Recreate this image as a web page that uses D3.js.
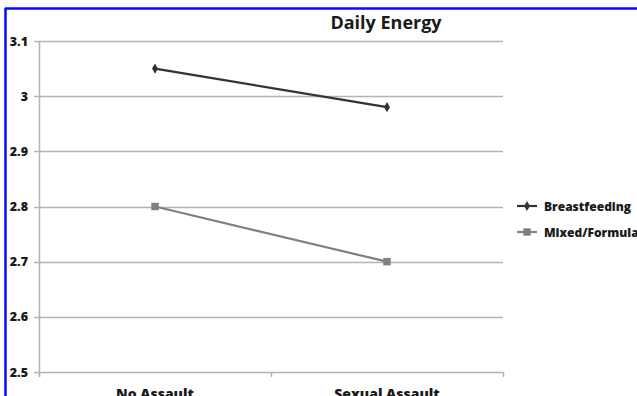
<!DOCTYPE html>
<html><head><meta charset="utf-8">
<script src="https://cdn.jsdelivr.net/npm/d3@7/dist/d3.min.js"></script>
<style>body{margin:0;background:#fff;overflow:hidden}svg{display:block}</style>
</head><body>
<script>
const categories = ["No Assault", "Sexual Assault"];
const breastfeeding = [3.05, 2.98];
const mixedFormula = [2.80, 2.70];
const yTicks = [2.5, 2.6, 2.7, 2.8, 2.9, 3.0, 3.1];
const yTickLabels = ["2.5", "2.6", "2.7", "2.8", "2.9", "3", "3.1"];
const seriesNames = ["Breastfeeding", "Mixed/Formula"];

const W = 637, H = 396;
const svg = d3.select("body").append("svg").attr("width", W).attr("height", H);
const font = "'Open Sans', sans-serif";

// blue frame
svg.append("line").attr("x1",5.5).attr("x2",5.5).attr("y1",8).attr("y2",H).attr("stroke","#0a0aff").attr("stroke-width",2.5);
svg.append("line").attr("x1",5).attr("x2",W).attr("y1",8.5).attr("y2",8.5).attr("stroke","#0a0aff").attr("stroke-width",2.5);

const x0 = 39, x1 = 503, yTop = 41, yBot = 372;
const x = d3.scaleBand().domain(categories).range([x0, x1]);
const y = d3.scaleLinear().domain([2.5, 3.1]).range([yBot, yTop]);

// gridlines
svg.append("g").selectAll("line").data(yTicks).join("line")
  .attr("x1", x0 - 5).attr("x2", x1)
  .attr("y1", d => Math.round(y(d)) + 0.5).attr("y2", d => Math.round(y(d)) + 0.5)
  .attr("stroke", "#b4b4b4").attr("stroke-width", 1.5);

// y axis line
svg.append("line").attr("x1", x0 + 0.5).attr("x2", x0 + 0.5).attr("y1", yTop).attr("y2", yBot + 5)
  .attr("stroke", "#b4b4b4").attr("stroke-width", 1.5);

// x tick marks at band boundaries
const bounds = [x0, x0 + x.bandwidth(), x1];
svg.append("g").selectAll("line").data(bounds).join("line")
  .attr("x1", d => d + 0.5).attr("x2", d => d + 0.5)
  .attr("y1", yBot).attr("y2", yBot + 5)
  .attr("stroke", "#b4b4b4").attr("stroke-width", 1.5);

// y labels
svg.append("g").selectAll("text").data(yTicks).join("text")
  .attr("x", 28).attr("y", d => y(d) + 4.5)
  .attr("text-anchor", "end").attr("font-family", font).attr("font-weight", 800)
  .attr("font-size", 12.5).attr("fill", "#1a1a1a")
  .text((d, i) => yTickLabels[i]);

// x labels
svg.append("g").selectAll("text").data(categories).join("text")
  .attr("x", d => x(d) + x.bandwidth() / 2).attr("y", 399)
  .attr("text-anchor", "middle").attr("font-family", font).attr("font-weight", 800)
  .attr("font-size", 14).attr("fill", "#1a1a1a")
  .text(d => d);

// title
svg.append("text").attr("x", 386).attr("y", 29).attr("text-anchor", "middle")
  .attr("font-family", font).attr("font-weight", "bold").attr("font-size", 18).attr("fill", "#1a1a1a")
  .text("Daily Energy");

const cx = d => x(d) + x.bandwidth() / 2;
const line = d3.line().x((d, i) => cx(categories[i])).y(d => y(d));

const series = [
  {name: seriesNames[0], values: breastfeeding, color: "#333333", symbol: d3.symbolDiamond, size: 30},
  {name: seriesNames[1], values: mixedFormula, color: "#808080", symbol: d3.symbolSquare, size: 55}
];

series.forEach(s => {
  svg.append("path").attr("d", line(s.values)).attr("fill", "none")
    .attr("stroke", s.color).attr("stroke-width", 2.2);
  svg.append("g").selectAll("path").data(s.values).join("path")
    .attr("transform", (d, i) => `translate(${cx(categories[i])},${y(d)})`)
    .attr("d", d3.symbol().type(s.symbol).size(s.size)).attr("fill", s.color);
});

// legend
const legY = [206, 232];
series.forEach((s, i) => {
  const g = svg.append("g").attr("transform", `translate(517,${legY[i]})`);
  g.append("line").attr("x1", 0).attr("x2", 20).attr("stroke", s.color).attr("stroke-width", 2.2);
  g.append("path").attr("transform", "translate(10,0)").attr("d", d3.symbol().type(s.symbol).size(s.size)).attr("fill", s.color);
  g.append("text").attr("x", 27).attr("y", 4.5).attr("font-family", font).attr("font-weight", 800)
    .attr("font-size", 12).attr("fill", "#1a1a1a").text(s.name);
});
</script>
</body></html>
